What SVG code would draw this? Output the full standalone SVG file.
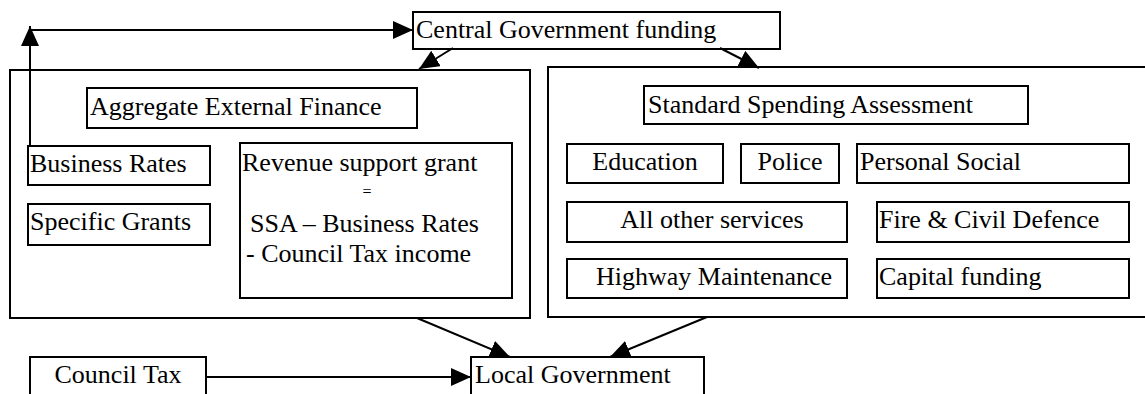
<svg xmlns="http://www.w3.org/2000/svg" width="1145" height="394" viewBox="0 0 1145 394" font-family="Liberation Serif, DejaVu Serif, serif" font-size="26">
<defs>
<style>
.b{fill:#fff;stroke:#000;stroke-width:2}
.c{fill:none;stroke:#000;stroke-width:2}
text{font-family:'Liberation Serif','DejaVu Serif',serif;font-size:26px;fill:#000}
.m{text-anchor:middle}
</style>
<marker id="ah" markerUnits="userSpaceOnUse" markerWidth="22" markerHeight="20" refX="20" refY="9" orient="auto">
<path d="M0,0 L20,9 L0,18 Z" fill="#000"/>
</marker>
</defs>
<rect width="1145" height="394" fill="#fff"/>
<g id="left-panel">
<rect class="b" x="10" y="70" width="520" height="248"/>
</g>
<g id="right-panel">
<rect class="b" x="548" y="67" width="610" height="250"/>
</g>
<g id="central">
<rect class="b" x="413" y="12" width="367" height="37"/>
<text x="416" y="38">Central Government funding</text>
</g>
<g id="aef">
<rect class="b" x="87" y="88" width="330" height="40"/>
<text x="90" y="115">Aggregate External Finance</text>
</g>
<g id="business-rates">
<rect class="b" x="28" y="146" width="182" height="39"/>
<text x="30" y="172">Business Rates</text>
</g>
<g id="specific-grants">
<rect class="b" x="28" y="204" width="182" height="41"/>
<text x="30" y="230">Specific Grants</text>
</g>
<g id="rsg">
<rect class="b" x="240" y="143" width="272" height="155"/>
<text x="242" y="171">Revenue support grant</text>
<text x="367" y="197" class="m" style="font-size:16px">=</text>
<text x="250" y="232">SSA – Business Rates</text>
<text x="246" y="262">- Council Tax income</text>
</g>
<g id="ssa">
<rect class="b" x="644" y="86" width="384" height="38"/>
<text x="648" y="113">Standard Spending Assessment</text>
</g>
<g id="education">
<rect class="b" x="567" y="144" width="156" height="39"/>
<text x="645" y="170" class="m">Education</text>
</g>
<g id="police">
<rect class="b" x="741" y="144" width="98" height="39"/>
<text x="790" y="170" class="m">Police</text>
</g>
<g id="personal-social">
<rect class="b" x="857" y="144" width="272" height="39"/>
<text x="860" y="170">Personal Social</text>
</g>
<g id="all-other">
<rect class="b" x="567" y="202" width="280" height="40"/>
<text x="712" y="228" class="m">All other services</text>
</g>
<g id="fire">
<rect class="b" x="877" y="202" width="252" height="40"/>
<text x="879" y="228">Fire &amp; Civil Defence</text>
</g>
<g id="highway">
<rect class="b" x="567" y="259" width="280" height="39"/>
<text x="714" y="285" class="m">Highway Maintenance</text>
</g>
<g id="capital">
<rect class="b" x="877" y="259" width="252" height="39"/>
<text x="879" y="285">Capital funding</text>
</g>
<g id="council-tax">
<rect class="b" x="30" y="357" width="176" height="45"/>
<text x="118" y="383" class="m">Council Tax</text>
</g>
<g id="local-government">
<rect class="b" x="471" y="357" width="233" height="45"/>
<text x="475" y="383">Local Government</text>
</g>
<g id="connectors">
<line class="c" x1="30" y1="146" x2="30" y2="26" marker-end="url(#ah)"/>
<line class="c" x1="30" y1="30" x2="413" y2="30" marker-end="url(#ah)"/>
<line class="c" x1="453" y1="48" x2="419" y2="69" marker-end="url(#ah)"/>
<line class="c" x1="720" y1="48" x2="759" y2="68" marker-end="url(#ah)"/>
<line class="c" x1="417" y1="318" x2="510" y2="357" marker-end="url(#ah)"/>
<line class="c" x1="707" y1="317" x2="610" y2="357" marker-end="url(#ah)"/>
<line class="c" x1="206" y1="377" x2="471" y2="377" marker-end="url(#ah)"/>
</g>
</svg>
